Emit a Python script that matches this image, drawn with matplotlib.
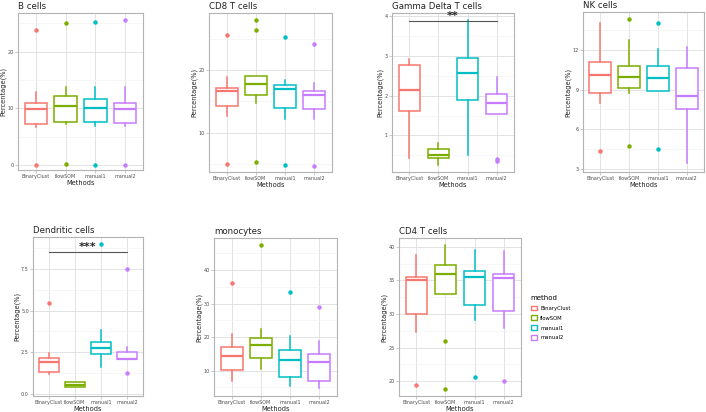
import numpy as np
import matplotlib.pyplot as plt
from matplotlib.patches import Patch

# methods and colours (ggplot default hue palette)
methods = ['BinaryClust', 'flowSOM', 'manual1', 'manual2']
colors = ['#F8766D', '#7CAE00', '#00BFC4', '#C77CFF']

# box stats per panel, one entry per method: [whislo, q1, med, q3, whishi]
b_stats = [[6.6, 7.2, 9.8, 11.0, 12.9], [7.2, 7.6, 10.4, 12.2, 13.8],
           [6.9, 7.5, 10.1, 11.6, 13.7], [6.8, 7.35, 9.9, 11.0, 13.8]]
b_out = [[23.8, 0.0], [25.1, 0.1], [25.3, 0.0], [25.5, 0.0]]

cd8_stats = [[12.6, 14.25, 16.7, 17.1, 19.0], [14.7, 16.1, 17.8, 19.1, 19.1],
             [12.1, 13.9, 17.0, 17.7, 18.4], [12.2, 13.7, 16.0, 16.7, 18.0]]
cd8_out = [[25.6, 4.9], [28.0, 26.5, 5.2], [25.4, 4.85], [24.2, 4.7]]

gd_stats = [[0.42, 1.62, 2.15, 2.78, 2.92], [0.25, 0.44, 0.5, 0.65, 0.8],
            [0.5, 1.89, 2.58, 2.96, 3.9], [1.53, 1.53, 1.81, 2.04, 2.47]]
gd_out = [[], [], [], [0.40, 0.35]]

nk_stats = [[7.98, 8.77, 10.14, 11.1, 14.03], [8.75, 9.15, 9.99, 10.8, 12.8],
            [8.9, 8.9, 9.89, 10.8, 12.08], [3.44, 7.5, 8.52, 10.65, 12.25]]
nk_out = [[4.35], [14.4, 4.74], [14.08, 4.5], []]

dc_stats = [[1.16, 1.32, 1.9, 2.16, 2.46], [0.42, 0.42, 0.52, 0.7, 0.7],
            [1.6, 2.36, 2.76, 3.12, 3.8], [2.06, 2.06, 2.08, 2.5, 2.8]]
dc_out = [[5.44], [], [9.0], [7.5, 1.26]]

mono_stats = [[6.8, 10.1, 14.4, 17.0, 21.0], [10.4, 13.85, 17.5, 19.6, 22.3],
              [5.4, 8.2, 13.3, 16.0, 20.2], [4.8, 7.0, 12.5, 14.8, 18.9]]
mono_out = [[36.3], [47.5], [33.6], [29.1]]

cd4_stats = [[27.3, 30.05, 35.1, 35.5, 38.8], [33.0, 33.0, 35.9, 37.25, 40.2],
             [29.1, 31.3, 35.5, 36.4, 39.5], [27.9, 30.45, 35.3, 35.9, 39.3]]
cd4_out = [[19.5], [26.0, 18.9], [20.6], [20.05]]

panels = [
    # title, stats, outliers, ylim, yticks, ticklabels, rect(px: left, right, top, bottom), signif
    ('B cells', b_stats, b_out, (-0.9, 26.8), [0, 10, 20], ['0', '10', '20'], (18, 143, 13, 170), None),
    ('CD8 T cells', cd8_stats, cd8_out, (3.66, 29.2), [10, 20], ['10', '20'], (209, 332, 13, 172), None),
    ('Gamma Delta T cells', gd_stats, gd_out, (0.08, 4.08), [1, 2, 3, 4], ['1', '2', '3', '4'], (392, 514, 13, 172), (3.87, '**')),
    ('NK cells', nk_stats, nk_out, (2.75, 14.9), [3, 6, 9, 12], ['3', '6', '9', '12'], (583, 704, 12, 172), None),
    ('Dendritic cells', dc_stats, dc_out, (-0.14, 9.42), [0, 2.5, 5, 7.5], ['0.0', '2.5', '5.0', '7.5'], (33, 143, 237, 396), (8.5, '***')),
    ('monocytes', mono_stats, mono_out, (2.4, 49.6), [10, 20, 30, 40], ['10', '20', '30', '40'], (214, 337, 238, 396), None),
    ('CD4 T cells', cd4_stats, cd4_out, (17.8, 41.3), [20, 25, 30, 35, 40], ['20', '25', '30', '35', '40'], (399, 521, 238, 396), None),
]

W, H = 706, 412
fig = plt.figure(figsize=(W / 100, H / 100), dpi=100)

for title, stats, outs, ylim, yt, ytl, rect, sig in panels:
    l, r, t, b = rect
    ax = fig.add_axes([l / W, 1 - b / H, (r - l) / W, (b - t) / H])
    bxp_stats = []
    for i, s in enumerate(stats):
        bxp_stats.append({'whislo': s[0], 'q1': s[1], 'med': s[2], 'q3': s[3],
                          'whishi': s[4], 'fliers': outs[i], 'label': methods[i]})
    bp = ax.bxp(bxp_stats, positions=range(1, 5), widths=0.75, patch_artist=True,
                showcaps=False, zorder=3)
    for i, c in enumerate(colors):
        bp['boxes'][i].set(facecolor='white', edgecolor=c, linewidth=1.1)
        bp['medians'][i].set(color=c, linewidth=1.6)
        for w in bp['whiskers'][2 * i:2 * i + 2]:
            w.set(color=c, linewidth=1.1)
        bp['fliers'][i].set(marker='o', markerfacecolor=c, markeredgecolor=c,
                            markersize=2.2, linestyle='none')
    ax.set_yticks(yt)
    ax.set_yticklabels(ytl)
    # minor grid between major ticks
    step = yt[1] - yt[0]
    minors = np.arange(yt[0] - step / 2, ylim[1], step)
    minors = minors[(minors > ylim[0]) & (minors < ylim[1])]
    ax.set_yticks(minors, minor=True)
    ax.set_ylim(*ylim)
    ax.set_xlim(0.4, 4.6)
    ax.grid(True, which='major', color='#DEDEDE', linewidth=0.6, zorder=0)
    ax.grid(True, which='minor', axis='y', color='#EFEFEF', linewidth=0.4, zorder=0)
    ax.set_axisbelow(True)
    ax.tick_params(axis='both', which='major', labelsize=3.5, colors='#B3B3B3',
                   labelcolor='#4D4D4D', length=2, width=0.5, pad=1.0)
    ax.tick_params(axis='y', which='minor', length=0)
    for sp in ax.spines.values():
        sp.set_color('#B3B3B3')
        sp.set_linewidth(0.8)
    ax.set_xlabel('Methods', fontsize=4.8, labelpad=0.3, color='#222222')
    ax.set_ylabel('Percentage(%)', fontsize=4.8, labelpad=0.8, color='#222222')
    ax.set_title(title, fontsize=6.2, loc='left', pad=3, color='#222222')
    if sig is not None:
        ax.plot([1, 4], [sig[0], sig[0]], color='#555555', linewidth=0.8, zorder=4)
        ax.text(2.5, sig[0], sig[1], ha='center', va='bottom', fontsize=8,
                fontweight='bold', color='#222222', zorder=5)

handles = [Patch(facecolor='white', edgecolor=c, linewidth=1.0, label=m)
           for m, c in zip(methods, colors)]
leg = fig.legend(handles=handles, title='method', loc='upper left',
                 bbox_to_anchor=(526 / W, 1 - 290 / H), frameon=False,
                 fontsize=3.8, title_fontsize=5.0, handlelength=1.2,
                 handleheight=1.0, labelspacing=0.9, handletextpad=0.6)
leg._legend_box.align = 'left'

fig.savefig('out.png', dpi=100)
